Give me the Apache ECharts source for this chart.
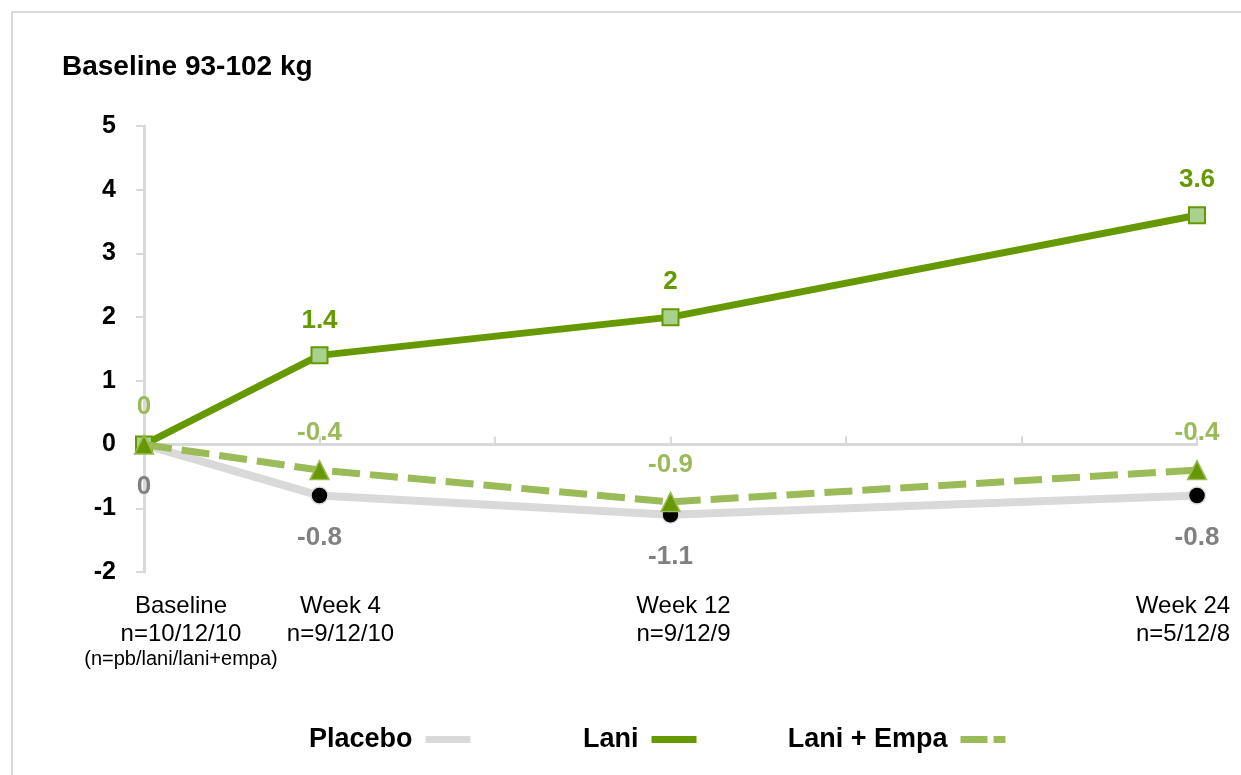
<!DOCTYPE html>
<html>
<head>
<meta charset="utf-8">
<script src="https://cdn.jsdelivr.net/npm/echarts@6/dist/echarts.min.js"></script>
<style>
  html, body { margin: 0; padding: 0; background: #fff; }
  #chart { width: 1241px; height: 775px; }
</style>
</head>
<body>
<div id="chart"></div>
<script>
// ---- data ----
var titleText = 'Baseline 93-102 kg';
var weeks = [0, 4, 12, 24];
var weekLabels = ['Baseline', 'Week 4', 'Week 12', 'Week 24'];
var nLabels = ['n=10/12/10', 'n=9/12/10', 'n=9/12/9', 'n=5/12/8'];
var nNote = '(n=pb/lani/lani+empa)';
var seriesNames = ['Placebo', 'Lani', 'Lani + Empa'];
var placebo = [0, -0.8, -1.1, -0.8];
var lani = [0, 1.4, 2, 3.6];
var laniEmpa = [0, -0.4, -0.9, -0.4];
var yMin = -2, yMax = 5, yStep = 1;

// ---- build ----
var FONT = '"Liberation Sans", Arial, sans-serif';
function pairs(vals) { return weeks.map(function (w, i) { return [w, vals[i]]; }); }

var shiftKey = { 0: 'p0', 4: 'p4', 12: 'p12', 24: 'p24' };
var rich = {};
function mk(key, size, lh, pad) {
  rich[key] = { fontFamily: FONT, fontSize: size, lineHeight: lh, color: '#000', align: 'center', padding: pad };
}
mk('p0', 24, 28, [0, 0, 0, 74]); mk('s0', 20, 22, [0, 0, 0, 74]);
mk('p4', 24, 28, [0, 0, 0, 42]);
mk('p12', 24, 28, [0, 0, 0, 26]);
mk('p24', 24, 28, [0, 28, 0, 0]);

function makeLabel(subset) {
  return function (v) {
    var i = weeks.indexOf(v);
    if (i < 0 || subset.indexOf(i) < 0) return '';
    var k = shiftKey[v];
    var s = '{' + k + '|' + weekLabels[i] + '}\n{' + k + '|' + nLabels[i] + '}';
    if (i === 0) s += '\n{s0|' + nNote + '}';
    return s;
  };
}

var chart = echarts.init(document.getElementById('chart'), null, { renderer: 'canvas' });

function legend(name, color, right, dashed) {
  return {
    right: right, top: 726, padding: 0, orient: 'horizontal', align: 'right',
    itemWidth: 45, itemHeight: 26, selectedMode: false,
    textStyle: { fontFamily: FONT, fontSize: 27, fontWeight: 'bold', color: '#000', padding: [0, 8, 0, 0] },
    data: [{
      name: name,
      itemStyle: { opacity: 0 },
      lineStyle: { color: color, width: 7, type: dashed ? [27, 6] : 'solid', opacity: 1 }
    }]
  };
}

function labelAxis(subset) {
  return {
    type: 'value', min: 0, max: 24, interval: 4, position: 'bottom',
    axisLine: { show: false, onZero: false },
    axisTick: { show: false },
    axisLabel: { show: true, margin: 20, hideOverlap: false, formatter: makeLabel(subset), rich: rich, showMinLabel: true, showMaxLabel: true },
    splitLine: { show: false }
  };
}

var LBL = { fontFamily: FONT, fontSize: 26, fontWeight: 'bold' };

var option = {
  animation: false,
  backgroundColor: '#fff',
  graphic: [{
    type: 'rect', silent: true, z: -10,
    shape: { x: 12, y: 12, width: 1400, height: 900 },
    style: { fill: 'none', stroke: '#D9D9D9', lineWidth: 2 }
  }],
  title: {
    text: titleText, left: 62, top: 53, padding: 0,
    textStyle: { fontFamily: FONT, fontSize: 28, fontWeight: 'bold', color: '#000' }
  },
  legend: [
    legend(seriesNames[0], '#D9D9D9', 767, false),
    legend(seriesNames[1], '#669900', 541, false),
    legend(seriesNames[2], '#9BBB59', 232, true)
  ],
  grid: { left: 144, right: 44, top: 126, bottom: 203, containLabel: false, outerBoundsMode: 'none' },
  xAxis: [{
    type: 'value', min: 0, max: 24, interval: 4, position: 'bottom',
    axisLine: { show: true, onZero: true, lineStyle: { color: '#D9D9D9', width: 3 } },
    axisTick: { show: true, inside: true, length: 8, lineStyle: { color: '#D9D9D9', width: 2 } },
    axisLabel: { show: false }, splitLine: { show: false }
  }, labelAxis([0, 2]), labelAxis([1, 3])],
  yAxis: {
    type: 'value', min: yMin, max: yMax, interval: yStep,
    axisLine: { show: true, lineStyle: { color: '#D9D9D9', width: 3 } },
    axisTick: { show: true, length: 8, lineStyle: { color: '#D9D9D9', width: 2 } },
    axisLabel: { margin: 28, fontFamily: FONT, fontSize: 25, fontWeight: 'bold', color: '#000' },
    splitLine: { show: false }
  },
  series: [{
    name: seriesNames[0], type: 'line', xAxisIndex: 0, data: pairs(placebo),
    symbol: 'circle', symbolSize: 17,
    lineStyle: { color: '#D9D9D9', width: 8 },
    itemStyle: { color: '#000', borderColor: '#D9D9D9', borderWidth: 1.5 },
    label: Object.assign({ show: true, position: 'bottom', distance: 20, color: '#808080' }, LBL),
    z: 2
  }, {
    name: seriesNames[1], type: 'line', xAxisIndex: 0,
    data: pairs(lani).map(function (p, i) { return i === 0 ? { value: p, label: { show: false } } : p; }),
    symbol: 'rect', symbolSize: 16,
    lineStyle: { color: '#669900', width: 7 },
    itemStyle: { color: '#A9D18E', borderColor: '#669900', borderWidth: 2 },
    label: Object.assign({ show: true, position: 'top', distance: 13, color: '#669900' }, LBL),
    z: 3
  }, {
    name: seriesNames[2], type: 'line', xAxisIndex: 0, data: pairs(laniEmpa),
    symbol: 'triangle', symbolSize: 19,
    lineStyle: { color: '#9BBB59', width: 7, type: [28, 10] },
    itemStyle: { color: '#669900', borderColor: '#9BBB59', borderWidth: 1.5 },
    label: Object.assign({ show: true, position: 'top', distance: 14, color: '#9BBB59' }, LBL),
    z: 4
  }]
};
chart.setOption(option);
</script>
</body>
</html>
